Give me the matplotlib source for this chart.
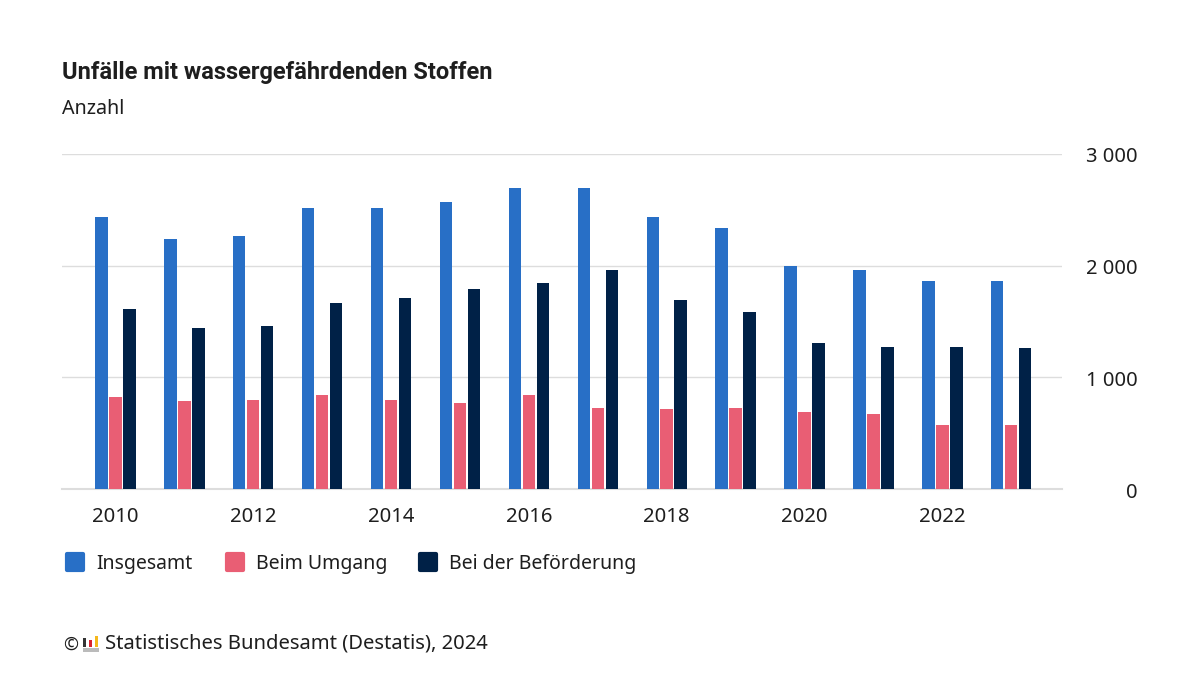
import matplotlib.pyplot as plt
from matplotlib.patches import FancyBboxPatch, Rectangle
from matplotlib.transforms import ScaledTranslation

years = list(range(2010, 2024))
insgesamt = [2435, 2238, 2265, 2515, 2515, 2570, 2700, 2700, 2435, 2337, 2000, 1960, 1862, 1862]
umgang = [823, 787, 796, 841, 796, 770, 841, 725, 716, 725, 689, 671, 573, 573]
befoerderung = [1611, 1441, 1459, 1665, 1710, 1790, 1844, 1960, 1692, 1585, 1307, 1271, 1271, 1262]

year_ticks = [2010, 2012, 2014, 2016, 2018, 2020, 2022]
y_ticks = [0, 1000, 2000, 3000]
y_labels = ['0', '1 000', '2 000', '3 000']
series_names = ['Insgesamt', 'Beim Umgang', 'Bei der Beförderung']

BLUE = '#286fc6'
PINK = '#e95e74'
NAVY = '#002147'
TEXT = '#1e1e1e'
GRID = '#dddddd'

W, H = 1200, 675
plt.rcParams['font.family'] = ['Noto Sans', 'DejaVu Sans']

fig = plt.figure(figsize=(W / 100, H / 100), dpi=100, facecolor='white')


def fx(px):
    return px / W


def fy(py):
    return 1 - py / H


# axes box in pixels: x 62-1062, y 154-489
ax = fig.add_axes([fx(62), fy(489), 1000 / W, 335 / H])
ax.set_ylim(0, 3000)
ax.set_xlim(2010 - 0.776, 2010 + 13.737)

step = 0.203
width = 0.18
for offset, values, color in zip([-step, 0, step], [insgesamt, umgang, befoerderung], [BLUE, PINK, NAVY]):
    ax.bar([y + offset for y in years], values, width=width, color=color, zorder=3)

for spine in ax.spines.values():
    spine.set_visible(False)
ax.grid(axis='y', color=GRID, linewidth=1, zorder=0)
ax.axhline(0, color=GRID, linewidth=1.5, zorder=2, clip_on=False)

ax.set_xticks(year_ticks)
ax.set_xticklabels(year_ticks, fontsize=14.6, color=TEXT)
ax.tick_params(axis='x', length=0, pad=12.7)

ax.yaxis.tick_right()
ax.set_yticks(y_ticks)
ax.set_yticklabels(y_labels, fontsize=14.5, color=TEXT, ha='right')
ax.tick_params(axis='y', length=0, pad=54.5)
# nudge the value labels down a pixel
nudge = ScaledTranslation(0, -1 / 100, fig.dpi_scale_trans)
for label in ax.get_yticklabels():
    label.set_transform(label.get_transform() + nudge)

fig.text(fx(62), fy(72.5), 'Unfälle mit wassergefährdenden Stoffen', fontsize=17,
         fontfamily='Roboto', fontweight='bold', color=TEXT, va='center')
fig.text(fx(62), fy(108.5), 'Anzahl', fontsize=14.2, color=TEXT, va='center')

# legend
for swatch_x, text_x, name, color in zip([65, 225, 418], [96, 256, 449], series_names, [BLUE, PINK, NAVY]):
    fig.add_artist(FancyBboxPatch((fx(swatch_x + 2), fy(570)), 16 / W, 16 / H,
                                  boxstyle='round,pad=0', transform=fig.transFigure,
                                  facecolor=color, edgecolor=color, linewidth=3, joinstyle='round'))
    fig.text(fx(text_x), fy(564), name, fontsize=14, color=TEXT, va='center')

# footer with small logo
fig.text(fx(63.5), fy(645), '©', fontsize=13, color=TEXT, va='center')
for x0, top, color in [(82.5, 638, '#333333'), (88.5, 640, '#d9232e'), (94.5, 636, '#f5b81c')]:
    fig.add_artist(Rectangle((fx(x0), fy(647)), 3.5 / W, (647 - top) / H,
                             transform=fig.transFigure, facecolor=color, edgecolor='none'))
fig.add_artist(Rectangle((fx(82.5), fy(651.5)), 16 / W, 3.5 / H, transform=fig.transFigure,
                         facecolor='#bbbbbb', edgecolor='none'))
fig.text(fx(105), fy(644), 'Statistisches Bundesamt (Destatis), 2024', fontsize=14.55,
         color=TEXT, va='center')

fig.savefig('out.png', dpi=100)
